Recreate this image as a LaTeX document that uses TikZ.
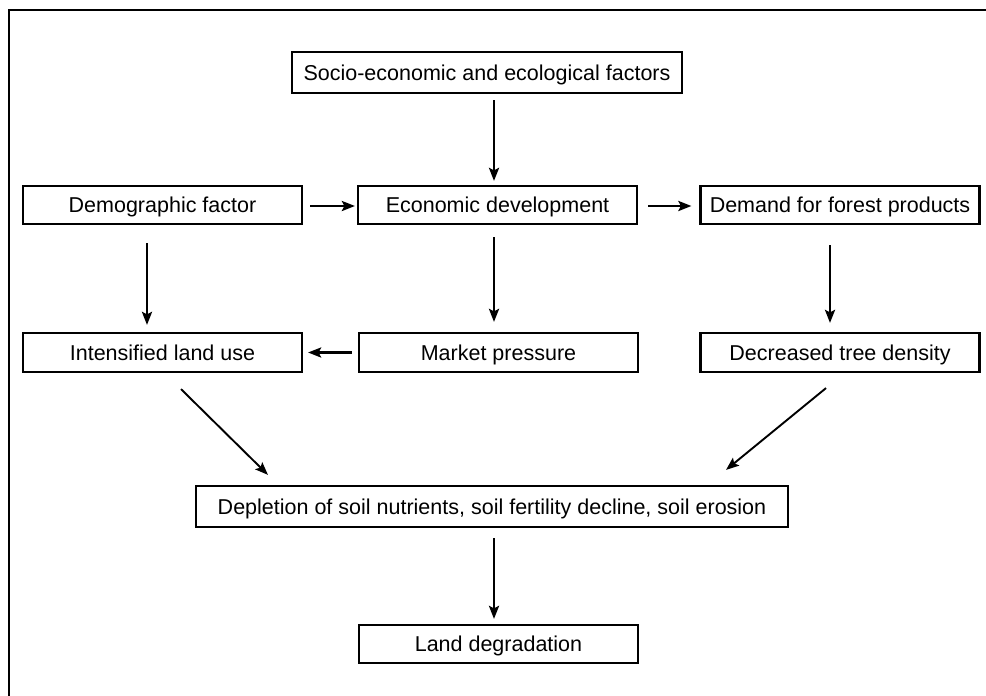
\documentclass[tikz,border=0pt]{standalone}
\usepackage{fontspec}
\setmainfont{Liberation Sans}
\usetikzlibrary{arrows.meta}

\begin{document}
\begin{tikzpicture}[x=1pt, y=-1pt,
    box/.style={draw, line width=2.2pt, minimum width=279pt, minimum height=38pt,
        inner sep=0pt, text height=15.5pt, text depth=0pt, font=\fontsize{21.5}{25}\selectfont},
    arr/.style={line width=2.6pt, -{Stealth[length=13pt, width=10pt, inset=2.5pt]}},
    diag/.style={line width=1.9pt, -{Stealth[length=13pt, width=10pt, inset=2.5pt]}}]
    \useasboundingbox (0,0) rectangle (986,696);

    % Draw the frame
    \draw[line width=2.6pt] (986,10) -- (9,10) -- (9,696);

    % Draw the boxes
    \node[box, minimum width=390pt, minimum height=41pt] (socio) at (487,72.5) {Socio-economic and ecological factors};
    \node[box] (demo) at (162.5,205) {Demographic factor};
    \node[box] (econ) at (497.5,205) {Economic development\hspace{14pt}};
    \node[box] (demand) at (840,205) {Demand for forest products};
    \node[box, minimum height=39pt] (intens) at (162.5,352.5) {Intensified land use};
    \node[box, minimum height=39pt] (market) at (498.5,352.5) {Market pressure};
    \node[box, minimum height=39pt] (decr) at (840,352.5) {Decreased tree density};
    \node[box, minimum width=592pt, minimum height=41pt] (depl) at (492,506.5) {Depletion of soil nutrients, soil fertility decline, soil erosion};
    \node[box] (land) at (498.5,644) {Land degradation};

    % Draw the arrows
    \draw[arr, shorten <=6pt, shorten >=4pt] ([xshift=7pt]socio.south) -- ([xshift=-3.5pt]econ.north);
    \draw[arr, shorten <=7pt, shorten >=2pt] ([yshift=-1pt]demo.east) -- ([yshift=-1pt]econ.west);
    \draw[arr, shorten <=10pt, shorten >=8pt] ([yshift=-1pt]econ.east) -- ([yshift=-1pt]demand.west);
    \draw[arr, shorten <=18pt, shorten >=7pt] ([xshift=-15.5pt]demo.south) -- ([xshift=-15.5pt]intens.north);
    \draw[arr, shorten <=12pt, shorten >=10pt] ([xshift=-3.5pt]econ.south) -- ([xshift=-4.5pt]market.north);
    \draw[arr, shorten <=20pt, shorten >=9pt] ([xshift=-10pt]demand.south) -- ([xshift=-10pt]decr.north);
    \draw[arr, shorten <=6pt, shorten >=5pt] (market.west) -- (intens.east);
    \draw[diag] ([xshift=18.5pt, yshift=-16pt]intens.south) -- ([xshift=-224pt, yshift=10pt]depl.north);
    \draw[diag] ([xshift=-14pt, yshift=-15pt]decr.south) -- ([xshift=234pt, yshift=15pt]depl.north);
    \draw[arr, shorten <=10pt, shorten >=5pt] ([xshift=2pt]depl.south) -- ([xshift=-4.5pt]land.north);
\end{tikzpicture}
\end{document}
